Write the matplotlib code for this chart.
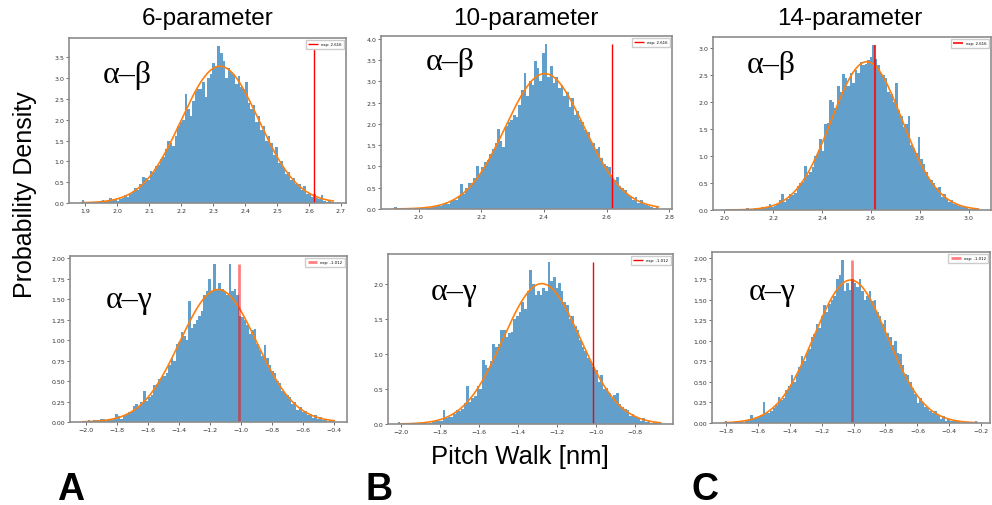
import numpy as np
import matplotlib
matplotlib.use("Agg")
import matplotlib.pyplot as plt

# histogram heights (probability density), 100 bins each
ab6_range = (1.888, 2.676)
ab6 = [0.07, 0.0, 0.0, 0.0, 0.03, 0.0, 0.03, 0.05, 0.07, 0.03,
       0.08, 0.12, 0.06, 0.1, 0.05, 0.1, 0.12, 0.18, 0.15, 0.22,
       0.26, 0.35, 0.31, 0.45, 0.62, 0.6, 0.55, 0.78, 0.74, 0.88,
       0.92, 1.05, 1.1, 1.3, 1.5, 1.45, 1.38, 1.62, 1.85, 1.95,
       2.0, 2.62, 2.25, 2.1, 2.45, 2.7, 2.75, 2.75, 2.9, 2.55,
       3.0, 3.1, 3.36, 3.3, 3.78, 3.6, 3.42, 3.0, 3.25, 3.15,
       3.1, 2.85, 3.05, 2.8, 2.75, 2.9, 2.4, 2.25, 2.35, 1.95,
       2.1, 1.75, 1.85, 1.5, 1.6, 1.45, 1.15, 1.35, 0.95, 1.0,
       0.85, 0.7, 0.75, 0.55, 0.6, 0.45, 0.45, 0.3, 0.4, 0.22,
       0.25, 0.15, 0.22, 0.12, 0.1, 0.2, 0.05, 0.03, 0.07, 0.03]

ag6_range = (-2.02, -0.40)
ag6 = [0.01, 0.0, 0.02, 0.0, 0.02, 0.03, 0.02, 0.04, 0.04, 0.02,
       0.04, 0.02, 0.05, 0.1, 0.07, 0.04, 0.07, 0.1, 0.12, 0.12,
       0.2, 0.22, 0.18, 0.24, 0.38, 0.26, 0.3, 0.33, 0.45, 0.47,
       0.52, 0.55, 0.56, 0.6, 0.7, 0.78, 0.75, 0.95, 0.98, 1.1,
       1.05, 1.0, 1.48, 1.15, 1.2, 1.25, 1.3, 1.35, 1.55, 1.6,
       1.75, 1.6, 1.93, 1.62, 1.7, 1.62, 1.6, 1.55, 1.93, 1.6,
       1.62, 1.55, 1.3, 1.28, 1.25, 1.18, 1.08, 1.12, 1.13, 0.95,
       0.88, 0.8, 0.94, 0.78, 0.7, 0.62, 0.6, 0.5, 0.48, 0.38,
       0.36, 0.33, 0.3, 0.22, 0.25, 0.15, 0.18, 0.12, 0.13, 0.08,
       0.1, 0.05, 0.08, 0.04, 0.06, 0.02, 0.03, 0.0, 0.02, 0.02]

ab10_range = (1.922, 2.765)
ab10 = [0.05, 0.0, 0.0, 0.0, 0.0, 0.0, 0.02, 0.02, 0.0, 0.02,
        0.02, 0.0, 0.05, 0.03, 0.05, 0.05, 0.08, 0.07, 0.1, 0.15,
        0.12, 0.18, 0.2, 0.22, 0.3, 0.58, 0.35, 0.5, 0.62, 0.62,
        0.72, 1.0, 0.82, 0.98, 1.1, 1.15, 1.3, 1.4, 1.55, 1.87,
        1.6, 1.45, 1.95, 2.05, 2.1, 2.2, 2.15, 2.45, 2.8, 3.2,
        2.65, 3.0, 2.9, 3.47, 3.3, 3.0, 3.67, 3.87, 3.1, 3.35,
        2.95, 3.1, 2.85, 2.9, 2.65, 2.75, 2.4, 2.6, 2.2, 2.3,
        2.1, 2.05, 1.85, 1.8, 1.6, 1.55, 1.4, 1.45, 1.2, 1.05,
        1.0, 0.98, 0.8, 0.68, 0.75, 0.55, 0.5, 0.45, 0.35, 0.3,
        0.22, 0.28, 0.15, 0.2, 0.12, 0.1, 0.08, 0.05, 0.03, 0.05]

ag10_range = (-2.014, -0.666)
ag10 = [0.03, 0.0, 0.0, 0.0, 0.0, 0.0, 0.0, 0.0, 0.0, 0.02,
        0.03, 0.0, 0.02, 0.03, 0.04, 0.05, 0.05, 0.2, 0.08, 0.1,
        0.1, 0.15, 0.2, 0.18, 0.22, 0.3, 0.55, 0.32, 0.38, 0.4,
        0.55, 0.5, 0.92, 0.85, 0.8, 0.9, 1.15, 1.1, 1.15, 1.35,
        1.35, 1.25, 1.3, 1.32, 1.5, 1.55, 1.6, 1.75, 1.65, 1.9,
        2.2, 2.0, 1.85, 1.9, 1.85, 1.95, 1.9, 2.32, 2.05, 2.1,
        1.95, 2.02, 1.9, 1.75, 1.7, 1.5, 1.55, 1.4, 1.35, 1.2,
        1.1, 1.05, 0.95, 0.9, 0.82, 0.78, 0.6, 0.7, 0.5, 0.52,
        0.45, 0.38, 0.42, 0.45, 0.28, 0.25, 0.22, 0.2, 0.12, 0.15,
        0.1, 0.08, 0.05, 0.08, 0.03, 0.05, 0.02, 0.03, 0.02, 0.01]

ab14_range = (2.006, 3.04)
ab14 = [0.02, 0.0, 0.0, 0.0, 0.0, 0.0, 0.0, 0.0, 0.03, 0.0,
        0.0, 0.03, 0.03, 0.02, 0.05, 0.03, 0.05, 0.12, 0.06, 0.08,
        0.12, 0.18, 0.3, 0.15, 0.2, 0.3, 0.28, 0.32, 0.45, 0.5,
        0.52, 0.82, 0.65, 0.7, 0.8, 1.0, 1.05, 1.32, 1.1, 1.6,
        1.62, 2.05, 2.0, 1.9, 2.3, 2.2, 2.52, 2.45, 2.3, 2.55,
        2.35, 2.6, 2.55, 2.75, 2.7, 2.72, 2.78, 2.85, 3.06, 2.8,
        2.7, 2.55, 2.5, 2.45, 2.2, 2.15, 2.0, 2.35, 1.85, 1.75,
        1.55, 1.6, 1.75, 1.2, 1.15, 1.05, 1.35, 0.95, 0.85, 0.7,
        0.6, 0.55, 0.5, 0.4, 0.42, 0.25, 0.3, 0.2, 0.15, 0.18,
        0.12, 0.1, 0.08, 0.05, 0.05, 0.03, 0.02, 0.0, 0.02, 0.03]

ag14_range = (-1.805, -0.225)
ag14 = [0.03, 0.0, 0.0, 0.0, 0.02, 0.02, 0.03, 0.0, 0.03, 0.05,
        0.1, 0.05, 0.07, 0.08, 0.1, 0.25, 0.12, 0.12, 0.15, 0.18,
        0.22, 0.32, 0.28, 0.3, 0.4, 0.45, 0.58, 0.5, 0.6, 0.68,
        0.82, 0.75, 0.85, 0.9, 1.05, 1.08, 1.2, 1.15, 1.3, 1.43,
        1.35, 1.45, 1.5, 1.55, 1.75, 1.8, 1.98, 1.6, 1.7, 1.62,
        1.75, 1.7, 1.65, 1.75, 1.6, 1.5, 1.55, 1.6, 1.48, 1.5,
        1.35, 1.3, 1.2, 1.25, 1.1, 1.05, 0.95, 1.0, 0.85, 0.84,
        0.7, 0.6, 0.58, 0.5, 0.42, 0.35, 0.24, 0.3, 0.25, 0.2,
        0.18, 0.15, 0.12, 0.15, 0.1, 0.05, 0.08, 0.03, 0.05, 0.03,
        0.03, 0.02, 0.03, 0.0, 0.0, 0.0, 0.0, 0.0, 0.0, 0.02]

exp_ab = 2.616
exp_ag = -1.012
column_titles = ["6-parameter", "10-parameter", "14-parameter"]
panel_letters = ["A", "B", "C"]

fig = plt.figure(figsize=(9.92, 5.06), dpi=100)

# axes boxes [left, bottom, width, height] in figure fractions
boxes = {
    (0, 0): [0.0696, 0.597, 0.279, 0.326],
    (1, 0): [0.0706, 0.164, 0.279, 0.328],
    (0, 1): [0.384, 0.585, 0.293, 0.342],
    (1, 1): [0.391, 0.160, 0.287, 0.336],
    (0, 2): [0.719, 0.583, 0.280, 0.342],
    (1, 2): [0.718, 0.162, 0.280, 0.338],
}
text_pos = {
    (0, 0): (0.12, 0.78), (1, 0): (0.13, 0.74),
    (0, 1): (0.155, 0.85), (1, 1): (0.15, 0.78),
    (0, 2): (0.12, 0.84), (1, 2): (0.13, 0.77),
}
panels = {
    (0, 0): (ab6_range, ab6, exp_ab, "α–β", 1.0, 1.0),
    (1, 0): (ag6_range, ag6, exp_ag, "α–γ", 0.5, 2.0),
    (0, 1): (ab10_range, ab10, exp_ab, "α–β", 1.0, 1.0),
    (1, 1): (ag10_range, ag10, exp_ag, "α–γ", 1.0, 1.0),
    (0, 2): (ab14_range, ab14, exp_ab, "α–β", 0.8, 1.5),
    (1, 2): (ag14_range, ag14, exp_ag, "α–γ", 0.5, 2.0),
}

for key, (rng, heights, expv, name, ralpha, rlw) in panels.items():
    ax = fig.add_axes(boxes[key])
    h = np.array(heights)
    edges = np.linspace(rng[0], rng[1], len(h) + 1)
    centers = (edges[:-1] + edges[1:]) / 2
    ax.hist(centers, bins=edges, weights=h, color="C0", alpha=0.7)
    # normal fit from the histogram moments
    mu = np.sum(centers * h) / np.sum(h)
    sd = np.sqrt(np.sum(h * (centers - mu) ** 2) / np.sum(h))
    xs = np.linspace(rng[0], rng[1], 300)
    ax.plot(xs, np.exp(-0.5 * ((xs - mu) / sd) ** 2) / (sd * np.sqrt(2 * np.pi)),
            color="C1", lw=1.2)
    ax.vlines(expv, 0, h.max(), colors="r", alpha=ralpha, lw=rlw,
              label="exp: %.3f" % expv)
    ax.legend(loc="upper right", fontsize=2.8, handlelength=2.5,
              borderpad=0.6, framealpha=1, edgecolor="#cccccc", fancybox=False)
    ax.text(text_pos[key][0], text_pos[key][1], name, transform=ax.transAxes,
            fontsize=23, family="Liberation Serif", va="center", ha="left")
    ax.tick_params(labelsize=4.5, length=2, width=0.5, pad=1.5, colors="#333333")
    for s in ax.spines.values():
        s.set_color("#8c8c8c")
        s.set_linewidth(1.2)
    if key == (1, 1):
        ax.set_xlim(-2.065, -0.605)

for i, t in enumerate(column_titles):
    fig.text([0.209, 0.530, 0.857][i], 0.963, t, ha="center", va="center",
             fontsize=17.5, family="Liberation Sans")
    fig.text([0.058, 0.368, 0.697][i], 0.032, panel_letters[i], ha="left",
             va="center", fontsize=27, fontweight="bold", family="Liberation Sans")

fig.text(0.025, 0.615, "Probability Density", rotation=90, ha="center",
         va="center", fontsize=18, family="Liberation Sans")
fig.text(0.524, 0.097, "Pitch Walk [nm]", ha="center", va="center",
         fontsize=18.5, family="Liberation Sans")

fig.savefig("out.png", dpi=100)
